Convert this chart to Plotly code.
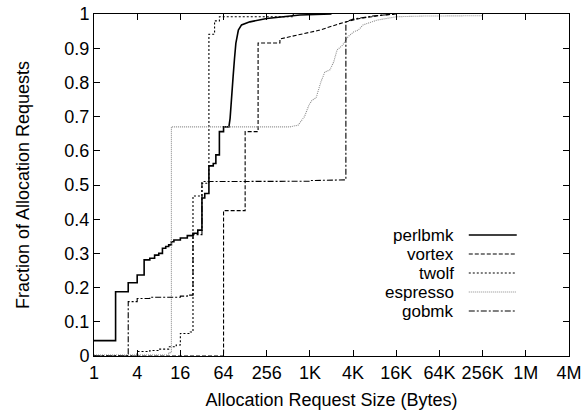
import math
import plotly.graph_objects as go

# ---- data: allocation request size (bytes) vs. cumulative fraction ----
# step parts: value jumps to the given fraction at the given size
perlbmk_step_sizes = [1, 2, 3, 4, 5, 6, 7, 8, 9, 10, 11, 12, 13, 16, 20, 24, 28, 32, 35, 40, 46, 50, 56, 64]
perlbmk_step_fracs = [0.045, 0.188, 0.214, 0.237, 0.281, 0.286, 0.295, 0.30, 0.315, 0.32, 0.325, 0.334,
                      0.339, 0.345, 0.352, 0.359, 0.368, 0.462, 0.475, 0.556, 0.563, 0.588, 0.656, 0.67]
perlbmk_tail_sizes = [76, 79, 84, 87, 91, 95, 103, 114, 149, 256, 743, 2048]
perlbmk_tail_fracs = [0.67, 0.695, 0.76, 0.817, 0.87, 0.914, 0.953, 0.968, 0.977, 0.987, 0.997, 1.0]

vortex_step_sizes = [1, 64, 128, 194, 391]
vortex_step_fracs = [0.0, 0.425, 0.656, 0.915, 0.927]
vortex_tail_sizes = [743, 1410, 2980, 5090, 10900, 16384]
vortex_tail_fracs = [0.939, 0.953, 0.975, 0.987, 0.997, 1.0]

twolf_step_sizes = [1, 4, 6, 8, 11, 14, 16, 22, 24, 32, 40, 48, 56, 600]
twolf_step_fracs = [0.0, 0.013, 0.016, 0.02, 0.027, 0.032, 0.066, 0.07, 0.468, 0.505, 0.941, 0.98, 0.992, 1.0]
twolf_tail_sizes = []
twolf_tail_fracs = []

espresso_step_sizes = [1, 11, 12]
espresso_step_fracs = [0.003, 0.01, 0.67]
espresso_tail_sizes = [538, 700, 860, 1000, 1100, 1250, 1450, 1650, 1950, 2200, 2450, 2900, 3500,
                       4200, 4840, 5630, 8770, 16600, 40000, 262144, 262144]
espresso_tail_fracs = [0.67, 0.675, 0.70, 0.735, 0.748, 0.755, 0.80, 0.83, 0.837, 0.86, 0.895, 0.908, 0.934,
                       0.948, 0.953, 0.968, 0.982, 0.992, 0.994, 0.995, 1.0]

gobmk_step_sizes = [1, 3, 4, 6, 16, 20, 24, 32, 256, 1024, 2048, 3250]
gobmk_step_fracs = [0.0, 0.159, 0.168, 0.172, 0.175, 0.178, 0.355, 0.51, 0.511, 0.513, 0.515, 0.977]
gobmk_tail_sizes = [4096, 8192, 16384]
gobmk_tail_fracs = [0.985, 0.995, 1.0]

x_tick_vals = [1, 4, 16, 64, 256, 1024, 4096, 16384, 65536, 262144, 1048576, 4194304]
x_tick_text = ["1", "4", "16", "64", "256", "1K", "4K", "16K", "64K", "256K", "1M", "4M"]
y_tick_vals = [0, 0.1, 0.2, 0.3, 0.4, 0.5, 0.6, 0.7, 0.8, 0.9, 1.0]

series_names = ["perlbmk", "vortex", "twolf", "espresso", "gobmk"]


def staircase(step_sizes, step_fracs, tail_sizes, tail_fracs):
    """Turn step data (plus an optional smooth tail) into polyline vertices."""
    xs, ys = [], []
    for i, (s, f) in enumerate(zip(step_sizes, step_fracs)):
        if i > 0:
            xs.append(s)
            ys.append(step_fracs[i - 1])
        xs.append(s)
        ys.append(f)
    xs.extend(tail_sizes)
    ys.extend(tail_fracs)
    return xs, ys


series_data = {
    "perlbmk": (perlbmk_step_sizes, perlbmk_step_fracs, perlbmk_tail_sizes, perlbmk_tail_fracs),
    "vortex": (vortex_step_sizes, vortex_step_fracs, vortex_tail_sizes, vortex_tail_fracs),
    "twolf": (twolf_step_sizes, twolf_step_fracs, twolf_tail_sizes, twolf_tail_fracs),
    "espresso": (espresso_step_sizes, espresso_step_fracs, espresso_tail_sizes, espresso_tail_fracs),
    "gobmk": (gobmk_step_sizes, gobmk_step_fracs, gobmk_tail_sizes, gobmk_tail_fracs),
}

line_styles = {
    "perlbmk": dict(color="black", width=1.6, dash="solid"),
    "vortex": dict(color="black", width=1.1, dash="4px,2px"),
    "twolf": dict(color="black", width=1.1, dash="2px,2px"),
    "espresso": dict(color="#8c8c8c", width=1.1, dash="1px,1px"),
    "gobmk": dict(color="black", width=1.1, dash="6px,2px,2px,2px"),
}

FONT = "Liberation Sans, Arial, Helvetica, sans-serif"

fig = go.Figure()
for name in series_names:
    xs, ys = staircase(*series_data[name])
    fig.add_trace(go.Scatter(x=xs, y=ys, mode="lines", name=name,
                             line=line_styles[name], showlegend=False))

# key: label on the left, line sample on the right
key_label_x = 0.762
key_line_x0, key_line_x1 = 0.789, 0.890
key_row_step = 19 / 342
key_top_y = (356 - 273) / 342 + 2 * key_row_step
for i, name in enumerate(series_names):
    yk = key_top_y - i * key_row_step
    fig.add_annotation(x=key_label_x, y=yk, xref="paper", yref="paper", text=name,
                       showarrow=False, xanchor="right", yanchor="middle",
                       font=dict(family=FONT, size=17, color="black"))
    st = line_styles[name]
    fig.add_shape(type="line", xref="paper", yref="paper", x0=key_line_x0, x1=key_line_x1,
                  y0=yk, y1=yk, line=dict(color=st["color"], width=st["width"], dash=st["dash"]))

axis_common = dict(showline=True, linecolor="black", linewidth=1, mirror="ticks",
                   ticks="inside", ticklen=6, tickwidth=1, tickcolor="black",
                   showgrid=False, zeroline=False,
                   tickfont=dict(family=FONT, size=18, color="black"))

fig.update_xaxes(type="log", range=[0, math.log10(4194304)],
                 tickvals=x_tick_vals, ticktext=x_tick_text,
                 title=dict(text="Allocation Request Size (Bytes)", standoff=11,
                            font=dict(family=FONT, size=18, color="black")),
                 **axis_common)
fig.update_yaxes(range=[0, 1], tickvals=y_tick_vals,
                 title=dict(text="Fraction of Allocation Requests", standoff=30,
                            font=dict(family=FONT, size=18, color="black")),
                 **axis_common)

fig.update_layout(width=582, height=414,
                  margin=dict(l=94, r=13, t=14, b=58, autoexpand=False),
                  paper_bgcolor="white", plot_bgcolor="white",
                  font=dict(family=FONT, size=18, color="black"))

fig.write_html("out.html")
